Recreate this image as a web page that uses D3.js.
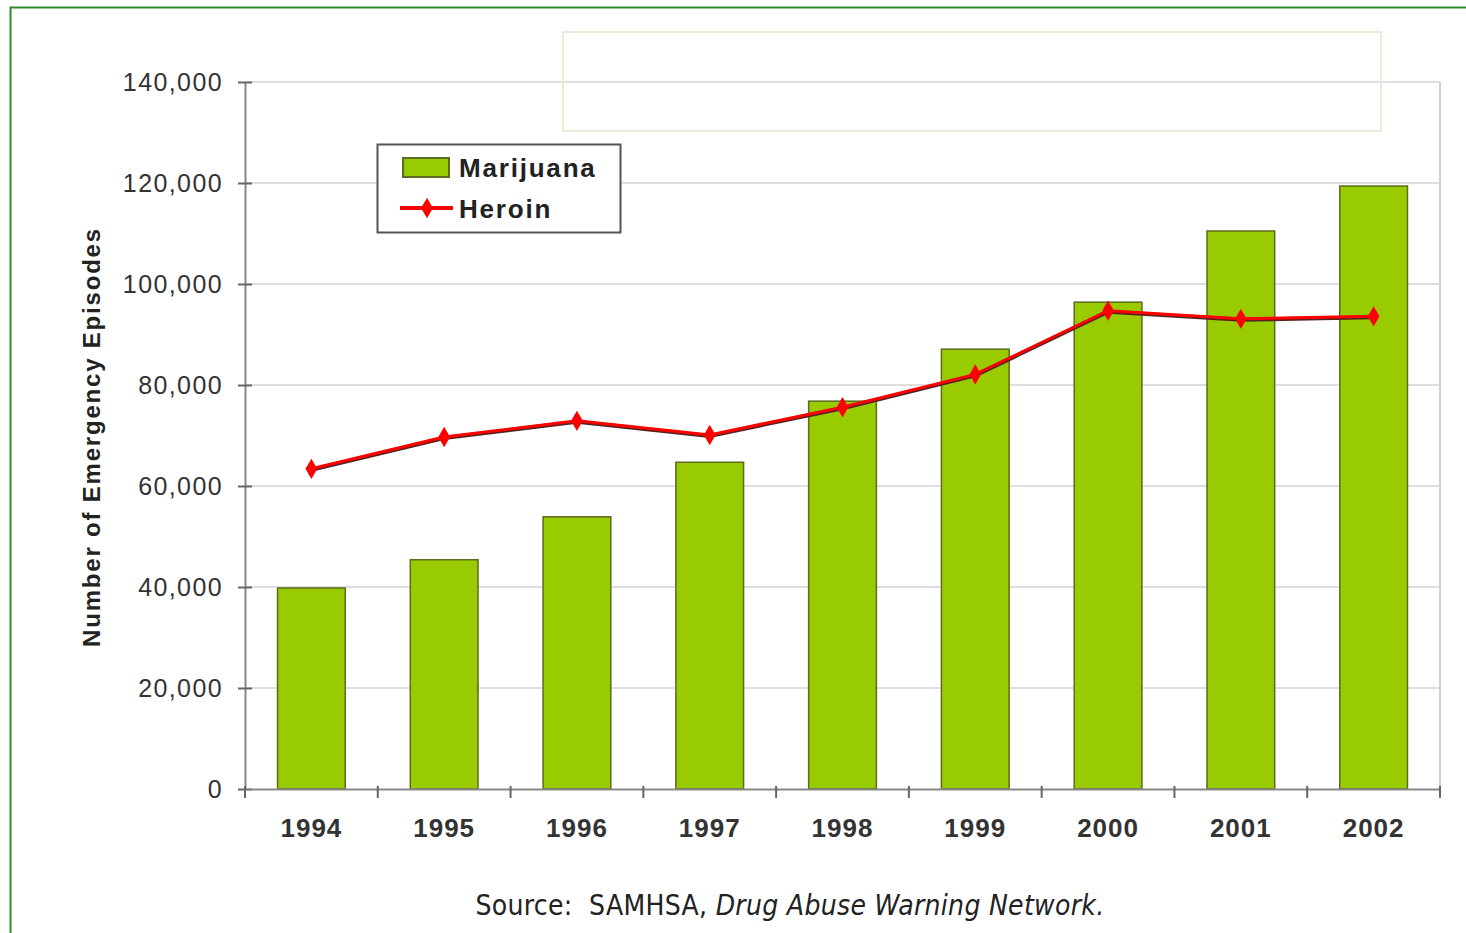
<!DOCTYPE html>
<html>
<head>
<meta charset="utf-8">
<script src="https://cdn.jsdelivr.net/npm/d3@7"></script>
<style>
  body { margin: 0; background: #fff; }
  svg { display: block; }
</style>
</head>
<body>
<svg width="1466" height="933"></svg>
<script>
var years = ["1994", "1995", "1996", "1997", "1998", "1999", "2000", "2001", "2002"];
var marijuana = [39800, 45400, 53900, 64700, 76800, 87100, 96400, 110500, 119400];
var heroin = [63400, 69700, 72900, 70100, 75600, 82100, 94700, 93100, 93600];
var yTicks = [0, 20000, 40000, 60000, 80000, 100000, 120000, 140000];

var svg = d3.select("svg");
var margin = {top: 82, right: 26, bottom: 144, left: 245};
var width = 1466 - margin.left - margin.right;
var height = 933 - margin.top - margin.bottom;

// page frame
svg.append("rect")
  .attr("x", 10.5).attr("y", 7.5)
  .attr("width", 1470).attr("height", 940)
  .attr("fill", "none").attr("stroke", "#2e8b2e").attr("stroke-width", 2);

var g = svg.append("g").attr("transform", "translate(" + margin.left + "," + margin.top + ")");

var x = d3.scaleBand().domain(years).range([0, width]).paddingInner(0.49).paddingOuter(0.245);
var y = d3.scaleLinear().domain([0, 140000]).range([height, 0]);

// gridlines
g.selectAll(".grid").data(yTicks.slice(1))
  .enter().append("line")
  .attr("x1", 0).attr("x2", width)
  .attr("y1", function (d) { return y(d); }).attr("y2", function (d) { return y(d); })
  .attr("stroke", "#dedede").attr("stroke-width", 2);

// right frame
g.append("line")
  .attr("x1", width).attr("x2", width).attr("y1", 0).attr("y2", height)
  .attr("stroke", "#d0d0d0").attr("stroke-width", 2);

// title box (text is illegible in the source)
svg.append("rect")
  .attr("x", 563).attr("y", 32).attr("width", 818).attr("height", 99)
  .attr("fill", "none").attr("stroke", "#eeeadb").attr("stroke-width", 2);

// bars
g.selectAll(".bar").data(marijuana)
  .enter().append("rect")
  .attr("x", function (d, i) { return x(years[i]); })
  .attr("y", function (d) { return y(d); })
  .attr("width", x.bandwidth())
  .attr("height", function (d) { return height - y(d); })
  .attr("fill", "#99cc00").attr("stroke", "#5c6b1f").attr("stroke-width", 1.5);

// heroin line
var line = d3.line()
  .x(function (d, i) { return x(years[i]) + x.bandwidth() / 2; })
  .y(function (d) { return y(d); });

g.append("path").datum(heroin)
  .attr("d", line)
  .attr("fill", "none").attr("stroke", "#552222").attr("stroke-width", 4)
  .attr("transform", "translate(0,1)");
g.append("path").datum(heroin)
  .attr("d", line)
  .attr("fill", "none").attr("stroke", "#ff0000").attr("stroke-width", 3);

var diamond = d3.symbol().type(d3.symbolDiamond).size(120);
g.selectAll(".pt").data(heroin)
  .enter().append("path")
  .attr("d", diamond)
  .attr("transform", function (d, i) {
    return "translate(" + (x(years[i]) + x.bandwidth() / 2) + "," + y(d) + ")";
  })
  .attr("fill", "#ff0000");

// y axis
var yAxis = g.append("g")
  .call(d3.axisLeft(y).tickValues(yTicks).tickSize(0).tickPadding(22)
    .tickFormat(d3.format(",")));
yAxis.select(".domain").attr("stroke", "#888").attr("stroke-width", 2);
yAxis.selectAll("text")
  .attr("font-family", "Liberation Sans, Arial, sans-serif")
  .attr("font-size", 25).attr("letter-spacing", 1.4).attr("fill", "#333");
yAxis.selectAll(".tick").append("line")
  .attr("x1", -7).attr("x2", 7).attr("stroke", "#666").attr("stroke-width", 2);

// x axis
var xAxis = g.append("g").attr("transform", "translate(0," + height + ")")
  .call(d3.axisBottom(x).tickSize(0).tickPadding(30));
xAxis.select(".domain").attr("stroke", "#888").attr("stroke-width", 2);
xAxis.selectAll("text")
  .attr("font-family", "Liberation Sans, Arial, sans-serif")
  .attr("font-size", 26).attr("font-weight", "bold").attr("letter-spacing", 1)
  .attr("fill", "#333");

var step = x.step();
var bounds = d3.range(0, years.length + 1).map(function (i) { return i * step; });
xAxis.selectAll(".xt").data(bounds)
  .enter().append("line")
  .attr("x1", function (d) { return d; }).attr("x2", function (d) { return d; })
  .attr("y1", -3).attr("y2", 9)
  .attr("stroke", "#666").attr("stroke-width", 2);

// y axis title
svg.append("text")
  .attr("transform", "translate(100,437) rotate(-90)")
  .attr("text-anchor", "middle")
  .attr("font-family", "Liberation Sans, Arial, sans-serif")
  .attr("font-size", 24).attr("font-weight", "bold").attr("letter-spacing", 1.8)
  .attr("fill", "#222")
  .text("Number of Emergency Episodes");

// legend
var lg = svg.append("g");
lg.append("rect")
  .attr("x", 377.5).attr("y", 144.5).attr("width", 243).attr("height", 88)
  .attr("fill", "#fff").attr("stroke", "#555").attr("stroke-width", 2);
lg.append("rect")
  .attr("x", 403).attr("y", 158).attr("width", 46).attr("height", 19)
  .attr("fill", "#99cc00").attr("stroke", "#5c6b1f").attr("stroke-width", 2);
lg.append("line")
  .attr("x1", 400).attr("x2", 453).attr("y1", 208).attr("y2", 208)
  .attr("stroke", "#ff0000").attr("stroke-width", 4);
lg.append("path").attr("d", diamond).attr("transform", "translate(427,208)").attr("fill", "#ff0000");
lg.selectAll(".lt").data(["Marijuana", "Heroin"])
  .enter().append("text")
  .attr("x", 459).attr("y", function (d, i) { return 177 + i * 41; })
  .attr("font-family", "Liberation Sans, Arial, sans-serif")
  .attr("font-size", 26).attr("font-weight", "bold").attr("letter-spacing", 1.8)
  .attr("fill", "#222")
  .text(function (d) { return d; });

// source
var src = svg.append("text")
  .attr("x", 790).attr("y", 915).attr("text-anchor", "middle")
  .attr("font-family", "DejaVu Sans Condensed, DejaVu Sans, sans-serif")
  .attr("font-size", 28).attr("letter-spacing", 0.3).attr("fill", "#222");
src.append("tspan").attr("xml:space", "preserve").text("Source:  SAMHSA, ");
src.append("tspan").attr("font-style", "italic").text("Drug Abuse Warning Network.");
</script>
</body>
</html>
